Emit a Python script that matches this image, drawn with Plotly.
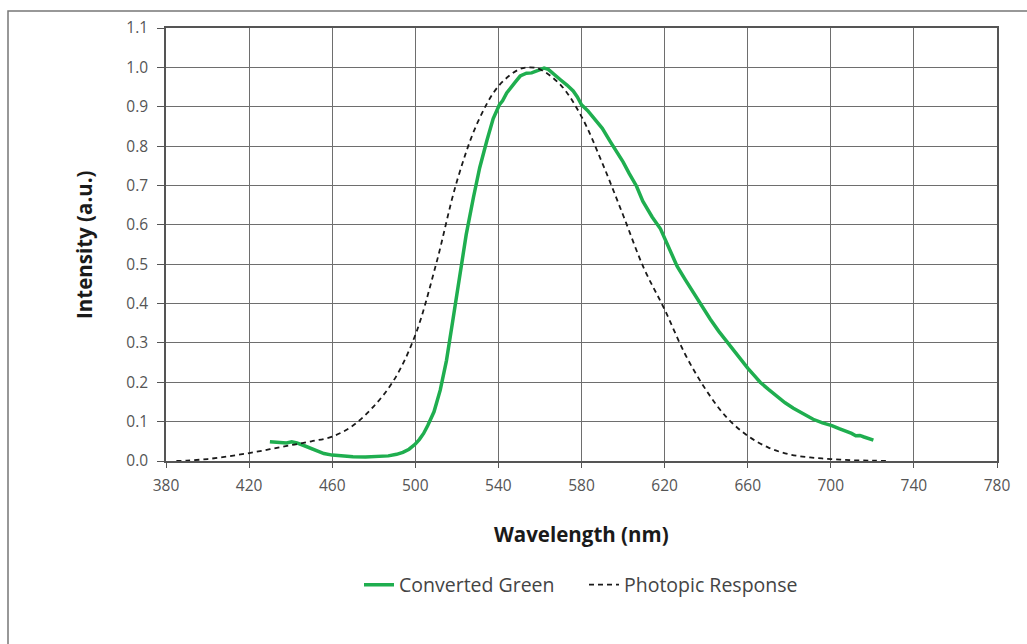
import plotly.graph_objects as go

# Converted Green spectrum
green_wl = [430, 433, 436, 438, 440.5, 443, 446, 449, 452, 456, 460, 465, 470, 476, 482, 487, 491, 494,
            497, 500, 502, 504, 506, 509, 512, 515, 518, 521.5, 524.5, 528, 531, 534.5, 537.5, 540.5, 542,
            544, 546, 548, 550.5, 553.5, 556, 558, 560, 562, 564, 566, 568, 570, 573, 576, 578, 580,
            583, 586, 590, 594, 597, 600, 603, 606.5, 609.5, 614, 618, 621, 626, 630, 634, 638,
            642, 646, 650, 655, 660, 663, 666, 670, 674, 678, 682, 687, 691.5, 696, 700.5, 704,
            707.5, 710, 712, 714, 716, 718, 720.5]
green_val = [0.049, 0.048, 0.045, 0.046, 0.049, 0.046, 0.040, 0.033, 0.026, 0.019, 0.015, 0.012, 0.011, 0.010, 0.011, 0.013, 0.017, 0.022,
             0.030, 0.043, 0.055, 0.070, 0.090, 0.125, 0.180, 0.255, 0.355, 0.470, 0.575, 0.670, 0.745, 0.815, 0.870, 0.905, 0.915,
             0.935, 0.950, 0.962, 0.978, 0.985, 0.986, 0.990, 0.993, 0.998, 0.995, 0.985, 0.978, 0.968, 0.955, 0.940, 0.925, 0.905,
             0.890, 0.870, 0.845, 0.810, 0.785, 0.760, 0.730, 0.698, 0.660, 0.620, 0.590, 0.556, 0.495, 0.460, 0.426, 0.392,
             0.360, 0.330, 0.303, 0.268, 0.236, 0.218, 0.200, 0.182, 0.164, 0.148, 0.134, 0.118, 0.106, 0.097, 0.090, 0.082,
             0.076, 0.070, 0.064, 0.065, 0.061, 0.058, 0.053]

# Photopic response
phot_wl = [385, 390, 400, 410, 420, 430, 440, 450, 460, 470, 480, 490, 500, 510, 520, 530, 540, 550, 555,
           560, 570, 580, 590, 600, 610, 620, 630, 640, 650, 660, 670, 680, 690, 700, 710, 720, 728]
phot_val = [0.000, 0.001, 0.005, 0.012, 0.020, 0.030, 0.040, 0.050, 0.062, 0.090, 0.139, 0.208, 0.320, 0.500, 0.710, 0.860, 0.952, 0.995, 1.000,
            0.995, 0.955, 0.875, 0.757, 0.625, 0.490, 0.385, 0.270, 0.180, 0.110, 0.064, 0.034, 0.017, 0.009, 0.005, 0.002, 0.001, 0.000]

x_ticks = [380, 420, 460, 500, 540, 580, 620, 660, 700, 740, 780]
y_ticks = [0.0, 0.1, 0.2, 0.3, 0.4, 0.5, 0.6, 0.7, 0.8, 0.9, 1.0, 1.1]

fig = go.Figure()
fig.add_trace(go.Scatter(x=green_wl, y=green_val, mode="lines", name="Converted Green",
                         line=dict(color="#1fae4f", width=3.5)))
fig.add_trace(go.Scatter(x=phot_wl, y=phot_val, mode="lines", name="Photopic Response",
                         line=dict(color="#1a1a1a", width=1.8, dash="5px,4px", shape="spline")))

W, H = 1027, 644
L, R, T, B = 166, 30, 28, 183
pw, ph = W - L - R, H - T - B

def px2paper_x(px):
    return (px - L) / pw

def px2paper_y(py):
    return (H - B - py) / ph

FONT = "Open Sans"

fig.update_layout(
    width=W, height=H,
    margin=dict(l=L, r=R, t=T, b=B),
    paper_bgcolor="white", plot_bgcolor="white",
    font=dict(family=FONT, color="#555555", size=15),
    showlegend=True,
    legend=dict(orientation="h", x=px2paper_x(359), xanchor="left", y=px2paper_y(585), yanchor="middle",
                font=dict(size=19.5, color="#444444"), itemwidth=30, entrywidth=180,
                bgcolor="rgba(0,0,0,0)"),
    xaxis=dict(range=[380, 780], tickvals=x_ticks, ticktext=[str(v) for v in x_ticks],
               showgrid=True, gridcolor="#6e6e6e", gridwidth=1,
               showline=True, linecolor="#555555", linewidth=1.5, mirror=True,
               ticks="outside", ticklen=5, tickcolor="#555555", zeroline=False,
               ticklabelstandoff=5,
               tickfont=dict(size=15.5, color="#555555")),
    yaxis=dict(range=[0, 1.1], tickvals=y_ticks, ticktext=[f"{v:.1f}" for v in y_ticks],
               showgrid=True, gridcolor="#6e6e6e", gridwidth=1,
               showline=True, linecolor="#555555", linewidth=1.5, mirror=True,
               ticks="outside", ticklen=7, tickcolor="#555555", zeroline=False,
               ticklabelstandoff=6,
               tickfont=dict(size=15.5, color="#555555")),
    annotations=[
        dict(text="<b>Wavelength (nm)</b>", xref="paper", yref="paper",
             x=px2paper_x(581), y=px2paper_y(534), xanchor="center", yanchor="middle",
             showarrow=False, font=dict(family=FONT, size=20.5, color="#1a1a1a")),
        dict(text="<b>Intensity (a.u.)</b>", xref="paper", yref="paper",
             x=px2paper_x(84), y=px2paper_y(245), xanchor="center", yanchor="middle",
             textangle=-90, showarrow=False, font=dict(family=FONT, size=20.5, color="#1a1a1a")),
    ],
    shapes=[
        dict(type="rect", xref="paper", yref="paper",
             x0=px2paper_x(8), x1=px2paper_x(1035), y0=px2paper_y(655), y1=px2paper_y(11),
             line=dict(color="#777777", width=1.5), fillcolor="rgba(0,0,0,0)", layer="below"),
    ],
)

fig.write_html("out.html")
